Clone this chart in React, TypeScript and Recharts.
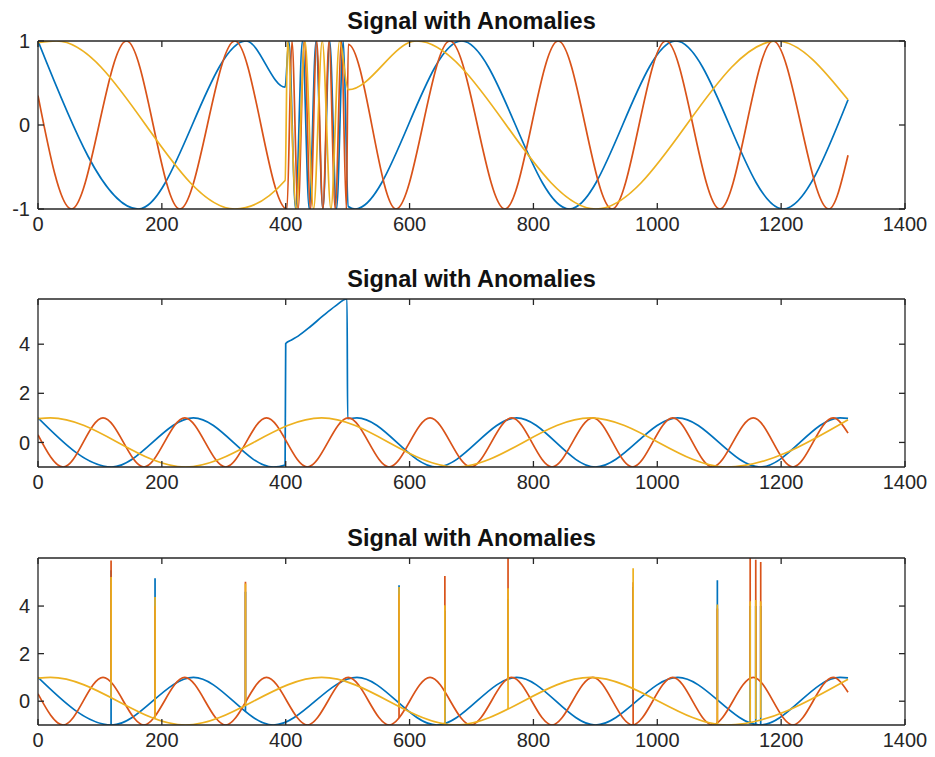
import React from 'react';
import { Line, LineChart, XAxis, YAxis } from 'recharts';

type Pt = [number, number];
type Spike = [number, number, number]; // x, value before the spike, spike top

const xTicks = [0, 200, 400, 600, 800, 1000, 1200, 1400];
const topYTicks = [-1, 0, 1];
const lowYTicks = [0, 2, 4];

// top panel: base waves with a fast burst between 400 and 500
const topBlue: Pt[] = [
  [0, 1], [162, -1], [336, 1], [399, 0.45],
  [405, 1], [416, -1], [427, 1], [438, -1], [449, 1], [460, -1], [471, 1], [482, -1], [493, 1],
  [501, -0.97], [512, -1], [684, 1], [858, -1], [1030, 1], [1203, -1], [1308, 0.3],
];
const topOrange: Pt[] = [
  [0, 0.35], [54, -1], [143, 1], [229, -1], [318, 1], [402, -1],
  [410, 1], [420, -1], [430, 1], [440, -1], [450, 1], [460, -1], [470, 1], [480, -1], [490, 1], [498, -1],
  [501, 0.96], [578, -1], [665, 1], [754, -1], [840, 1], [927, -1], [1014, 1], [1101, -1], [1187, 1],
  [1277, -1], [1308, -0.36],
];
const topYellow: Pt[] = [
  [0, 0.98], [30, 1], [318, -1], [399, -0.66],
  [403, 1], [417, -1], [431, 1], [445, -1], [459, 1], [473, -1], [487, 1],
  [501, 0.42], [611, 1], [901, -1], [1193, 1], [1308, 0.3],
];

// middle panel: blue carries a raised block between 400 and 500
const midBlue: Pt[] = [
  [0, 1], [119, -1], [251, 1], [380, -1], [399, -0.92],
  [400, 4.03], [410, 4.18], [420, 4.33], [440, 4.72], [460, 5.15], [480, 5.55], [499, 5.84],
  [500, 0.97], [515, 1], [644, -1], [773, 1], [900, -1], [1033, 1], [1166, -1], [1295, 1], [1308, 0.98],
];
const lowBlue: Pt[] = [
  [0, 1], [119, -1], [251, 1], [380, -1], [515, 1], [644, -1], [773, 1], [900, -1], [1033, 1],
  [1166, -1], [1295, 1], [1308, 0.98],
];
const lowOrange: Pt[] = [
  [0, 0.31], [41, -1], [105, 1], [171, -1], [237, 1], [303, -1], [369, 1], [435, -1], [501, 1],
  [567, -1], [633, 1], [699, -1], [765, 1], [830, -1], [896, 1], [960, -1], [1025, 1], [1089, -1],
  [1155, 1], [1219, -1], [1284, 1], [1308, 0.38],
];
const lowYellow: Pt[] = [
  [0, 0.97], [20, 1], [238, -1], [458, 1], [675, -1], [892, 1], [1112, -1], [1308, 0.92],
];

// bottom panel: single-sample spikes
const blueSpikes: Spike[] = [
  [118, -1, 5.5], [189, 0.09, 5.17], [335, -0.42, 4.6], [583, -0.08, 4.87], [657, -0.94, 3.8],
  [759, 0.93, 4.3], [961, -0.12, 4.8], [1097, 0.06, 5.08], [1150, -0.97, 4.0], [1159, -1, 4.0],
  [1167, -1, 4.0],
];
const orangeSpikes: Spike[] = [
  [118, 0.79, 5.92], [189, -0.64, 4.0], [335, -0.04, 5.02], [583, -0.71, 4.5], [657, 0.41, 5.26],
  [759, 0.95, 6.02], [961, -1, 5.0], [1097, -0.92, 3.9], [1150, 0.98, 6.02], [1159, 0.99, 5.95],
  [1167, 0.81, 5.85],
];
const yellowSpikes: Spike[] = [
  [118, 0.15, 5.22], [189, -0.74, 4.38], [335, -0.18, 4.95], [583, -0.23, 4.8], [657, -0.96, 4.03],
  [759, -0.33, 4.75], [961, 0.54, 5.59], [1097, -0.97, 4.07], [1150, -0.84, 4.2], [1159, -0.76, 4.25],
  [1167, -0.69, 4.2],
];

const BLUE = '#0072BD';
const ORANGE = '#D95319';
const YELLOW = '#EDB120';
const AX = '#262626';

const rows = (pts: Pt[]) => pts.map(([x, y]) => ({ x, y }));
const spikeRows = (sp: Spike[]) =>
  sp.flatMap(([x, base, peak]) => [
    { x, y: base },
    { x, y: peak },
    { x, y: null },
  ]);

// inner tick marks only, no labels
const noLabel = () => <g />;

type Series = { data: any[]; color: string; curve: 'monotone' | 'linear' };

function Panel({
  plotTop,
  plotBottom,
  domain,
  yTicks,
  series,
}: {
  plotTop: number;
  plotBottom: number;
  domain: [number, number];
  yTicks: number[];
  series: Series[];
}) {
  const axisLine = { stroke: AX, strokeWidth: 1.3 };
  const inTick = { stroke: AX, strokeWidth: 1.3 };
  return (
    <>
      <div
        style={{
          position: 'absolute',
          left: 38,
          width: 867,
          top: plotTop - 31,
          textAlign: 'center',
          fontWeight: 'bold',
          fontSize: 23.5,
          lineHeight: '23px',
          color: '#111',
        }}
      >
        Signal with Anomalies
      </div>
      <div style={{ position: 'absolute', left: 0, top: plotTop - 10 }}>
        <LineChart
          width={935}
          height={plotBottom - plotTop + 10 + 32}
          margin={{ top: 10, right: 30, bottom: 0, left: 0 }}
        >
          <XAxis
            xAxisId="b"
            type="number"
            dataKey="x"
            domain={[0, 1400]}
            ticks={xTicks}
            interval={0}
            allowDataOverflow
            height={32}
            tickSize={0}
            tickMargin={8}
            tickLine={false}
            axisLine={axisLine}
            tick={{ fill: AX, fontSize: 20 }}
          />
          <XAxis
            xAxisId="bi"
            type="number"
            dataKey="x"
            domain={[0, 1400]}
            ticks={xTicks}
            interval={0}
            allowDataOverflow
            mirror
            height={1}
            tick={noLabel}
            tickSize={6}
            tickLine={inTick}
            axisLine={false}
          />
          <XAxis
            xAxisId="t"
            orientation="top"
            type="number"
            dataKey="x"
            domain={[0, 1400]}
            ticks={xTicks}
            interval={0}
            allowDataOverflow
            mirror
            height={1}
            tick={noLabel}
            tickSize={6}
            tickLine={inTick}
            axisLine={axisLine}
          />
          <YAxis
            yAxisId="l"
            type="number"
            domain={domain}
            ticks={yTicks}
            interval={0}
            allowDataOverflow
            width={38}
            tickSize={0}
            tickMargin={8}
            tickLine={false}
            axisLine={axisLine}
            tick={{ fill: AX, fontSize: 20 }}
          />
          <YAxis
            yAxisId="li"
            type="number"
            domain={domain}
            ticks={yTicks}
            interval={0}
            allowDataOverflow
            mirror
            width={1}
            tick={noLabel}
            tickSize={6}
            tickLine={inTick}
            axisLine={false}
          />
          <YAxis
            yAxisId="r"
            orientation="right"
            type="number"
            domain={domain}
            ticks={yTicks}
            interval={0}
            allowDataOverflow
            mirror
            width={1}
            tick={noLabel}
            tickSize={6}
            tickLine={inTick}
            axisLine={axisLine}
          />
          {series.map((s, i) => (
            <Line
              key={i}
              xAxisId="b"
              yAxisId="l"
              data={s.data}
              dataKey="y"
              type={s.curve}
              stroke={s.color}
              strokeWidth={1.7}
              dot={false}
              activeDot={false}
              connectNulls={false}
              isAnimationActive={false}
            />
          ))}
        </LineChart>
      </div>
    </>
  );
}

export default function App() {
  return (
    <div
      style={{
        position: 'absolute',
        left: 0,
        top: 0,
        width: 935,
        height: 757,
        background: '#fff',
        overflow: 'hidden',
        fontFamily: '"Liberation Sans", Arial, sans-serif',
      }}
    >
      <Panel
        plotTop={41}
        plotBottom={209}
        domain={[-1, 1]}
        yTicks={topYTicks}
        series={[
          { data: rows(topBlue), color: BLUE, curve: 'monotone' },
          { data: rows(topOrange), color: ORANGE, curve: 'monotone' },
          { data: rows(topYellow), color: YELLOW, curve: 'monotone' },
        ]}
      />
      <Panel
        plotTop={299}
        plotBottom={467}
        domain={[-1, 5.84]}
        yTicks={lowYTicks}
        series={[
          { data: rows(midBlue), color: BLUE, curve: 'monotone' },
          { data: rows(lowOrange), color: ORANGE, curve: 'monotone' },
          { data: rows(lowYellow), color: YELLOW, curve: 'monotone' },
        ]}
      />
      <Panel
        plotTop={558}
        plotBottom={725}
        domain={[-1, 6.02]}
        yTicks={lowYTicks}
        series={[
          { data: rows(lowBlue), color: BLUE, curve: 'monotone' },
          { data: spikeRows(blueSpikes), color: BLUE, curve: 'linear' },
          { data: rows(lowOrange), color: ORANGE, curve: 'monotone' },
          { data: spikeRows(orangeSpikes), color: ORANGE, curve: 'linear' },
          { data: rows(lowYellow), color: YELLOW, curve: 'monotone' },
          { data: spikeRows(yellowSpikes), color: YELLOW, curve: 'linear' },
        ]}
      />
    </div>
  );
}
